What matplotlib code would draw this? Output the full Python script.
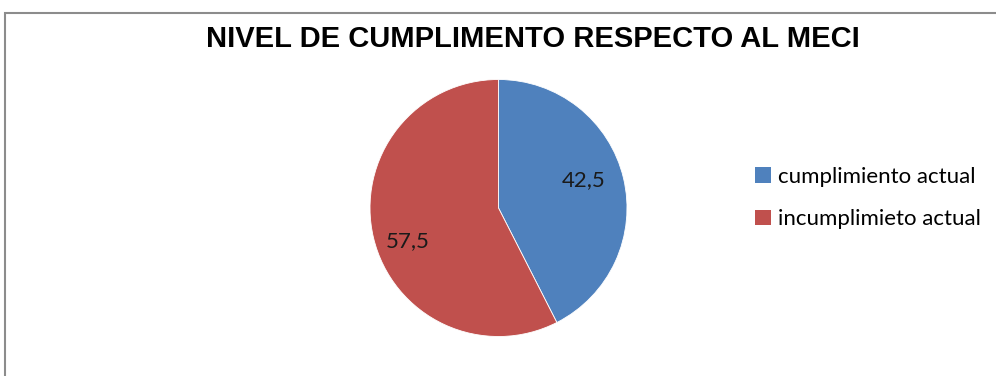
import matplotlib
matplotlib.use("Agg")
import matplotlib.pyplot as plt
from matplotlib.patches import Rectangle
import numpy as np

categories = ["cumplimiento actual", "incumplimieto actual"]
values = [42.5, 57.5]
value_labels = ["42,5", "57,5"]
colors = ["#4F81BD", "#C0504D"]
title = "NIVEL DE CUMPLIMENTO RESPECTO AL MECI"

W, H = 996, 376
fig = plt.figure(figsize=(W / 100, H / 100), dpi=100)
fig.patch.set_facecolor("white")

# outer chart frame (clipped at right and bottom as in reference)
fig.add_artist(Rectangle((4.5 / W, -0.05), 1.1, (H - 12.5) / H + 0.05,
                         transform=fig.transFigure, fill=False,
                         edgecolor="#8c8c8c", linewidth=1.5))

cx, cy, r = 498.5, 208, 128.5
ax = fig.add_axes([(cx - r) / W, (H - cy - r) / H, 2 * r / W, 2 * r / H])
wedges, _ = ax.pie(values, colors=colors, startangle=90, counterclock=False,
                   radius=1.0, wedgeprops=dict(linewidth=0.6, edgecolor="white"))
ax.set_xlim(-1, 1)
ax.set_ylim(-1, 1)
ax.set_aspect("equal")
ax.axis("off")

dists = [0.68, 0.73]
dys = [0.06, -0.09]
for lab, d, dy, w in zip(value_labels, dists, dys, wedges):
    ang = np.deg2rad((w.theta1 + w.theta2) / 2)
    ax.text(d * np.cos(ang), d * np.sin(ang) + dy, lab,
            ha="center", va="center", fontsize=16, family=["Lato", "DejaVu Sans"],
            color="#1a1a1a")

fig.text(0.535, (H - 39) / H, title, ha="center", va="center",
         fontsize=21, fontweight="bold", family=["Liberation Sans", "DejaVu Sans"],
         color="black")

handles = [Rectangle((0, 0), 1, 1, facecolor=c, edgecolor="none") for c in colors]
leg = fig.legend(handles, categories, loc="center left",
                 bbox_to_anchor=(735 / W, (H - 198) / H), frameon=False,
                 handlelength=0.7, handleheight=0.7, handletextpad=0.35,
                 labelspacing=1.0, prop=dict(family=["Lato", "DejaVu Sans"], size=16))

fig.savefig("out.png", dpi=100, facecolor="white")
